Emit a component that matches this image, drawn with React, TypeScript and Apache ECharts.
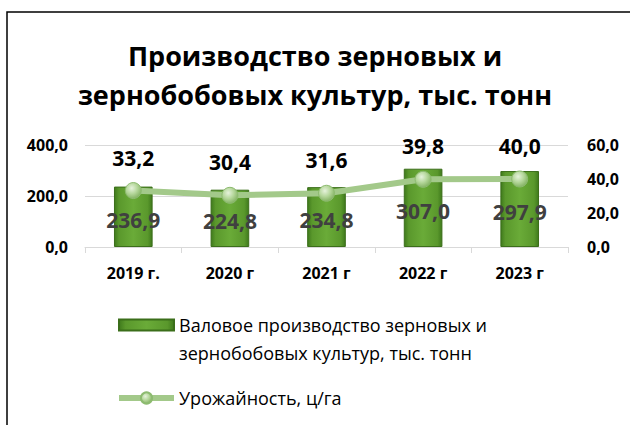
import React, { useEffect, useRef } from "react";
import * as echarts from "echarts";

const categories = ["2019 г.", "2020 г", "2021 г", "2022 г", "2023 г"];
const production = [236.9, 224.8, 234.8, 307.0, 297.9];
const yieldValues = [33.2, 30.4, 31.6, 39.8, 40.0];
const titleText = "Производство зерновых и\nзернобобовых культур, тыс. тонн";
const barName = "Валовое производство зерновых и\nзернобобовых культур, тыс. тонн";
const lineName = "Урожайность, ц/га";

const fmt = (v: number) => v.toFixed(1).replace(".", ",");
const FONT = "'Open Sans', 'Noto Sans', sans-serif";

export default function App() {
  const ref = useRef<HTMLDivElement>(null);
  useEffect(() => {
    if (!ref.current) return;
    const chart = echarts.init(ref.current, undefined, { renderer: "svg" });
    const barGradient = new echarts.graphic.LinearGradient(0, 0, 1, 0, [
      { offset: 0, color: "#3f7a1c" },
      { offset: 0.12, color: "#5a982c" },
      { offset: 0.5, color: "#6aab38" },
      { offset: 0.88, color: "#5a982c" },
      { offset: 1, color: "#3f7a1c" },
    ]);
    const markerGradient = new echarts.graphic.RadialGradient(0.4, 0.35, 0.7, [
      { offset: 0, color: "#e6f2dc" },
      { offset: 0.5, color: "#b5d79b" },
      { offset: 1, color: "#7fae5e" },
    ]);
    const axisLabelStyle = {
      fontFamily: FONT,
      fontSize: 16,
      fontWeight: "bold",
      color: "#000",
    };
    chart.setOption({
      animation: false,
      textStyle: { fontFamily: FONT },
      title: {
        text: titleText,
        left: "center",
        top: 36,
        padding: 0,
        textStyle: {
          fontFamily: FONT,
          fontSize: 27,
          fontWeight: "bold",
          color: "#000",
          lineHeight: 39,
        },
      },
      graphic: [
        {
          type: "rect",
          shape: { x: 7, y: 12, width: 700, height: 500 },
          style: { fill: "none", stroke: "#000", lineWidth: 1.5 },
          silent: true,
        },
      ],
      legend: {
        orient: "vertical",
        left: 116,
        top: 283,
        padding: 0,
        itemGap: 17,
        itemWidth: 55,
        itemHeight: 14,
        formatter: (name: string) => (name === barName ? "\n" + name : name),
        textStyle: { fontFamily: FONT, fontSize: 18, color: "#000", lineHeight: 28 },
        data: [
          { name: barName, icon: "path://M0,0h50v10h-50z" },
          { name: lineName, lineStyle: { width: 6 } },
        ],
      },
      grid: { left: 85, right: 62, top: 145, bottom: 178 },
      xAxis: {
        type: "category",
        data: categories,
        axisLine: { lineStyle: { color: "#d9d9d9", width: 1 } },
        axisTick: { show: true, lineStyle: { color: "#d9d9d9" }, length: 6 },
        axisLabel: { margin: 18, ...axisLabelStyle },
      },
      yAxis: [
        {
          type: "value",
          min: 0,
          max: 400,
          interval: 200,
          axisLabel: { margin: 17, ...axisLabelStyle, formatter: (v: number) => fmt(v) },
          splitLine: { lineStyle: { color: "#d9d9d9", width: 1 } },
          axisLine: { show: false },
          axisTick: { show: false },
        },
        {
          type: "value",
          min: 0,
          max: 60,
          interval: 20,
          position: "right",
          axisLabel: { margin: 19, ...axisLabelStyle, formatter: (v: number) => fmt(v) },
          splitLine: { show: false },
          axisLine: { show: false },
          axisTick: { show: false },
        },
      ],
      series: [
        {
          name: barName,
          type: "bar",
          data: production,
          barWidth: "40%",
          itemStyle: {
            color: barGradient,
            borderColor: "#3b6e1a",
            borderWidth: 1,
          },
          label: {
            show: true,
            position: "inside",
            offset: [0, 3],
            formatter: (p: any) => fmt(p.value),
            fontFamily: FONT,
            fontSize: 21,
            fontWeight: "bold",
            color: "#404040",
          },
          z: 2,
        },
        {
          name: lineName,
          type: "line",
          yAxisIndex: 1,
          data: yieldValues,
          symbol: "circle",
          symbolSize: 16,
          lineStyle: { color: "#a3c98a", width: 6 },
          itemStyle: {
            color: markerGradient,
            borderColor: "#8dbb70",
            borderWidth: 1,
          },
          label: {
            show: true,
            position: "top",
            distance: 14,
            formatter: (p: any) => fmt(p.value),
            fontFamily: FONT,
            fontSize: 21,
            fontWeight: "bold",
            color: "#000",
          },
          z: 3,
        },
      ],
    });
    return () => chart.dispose();
  }, []);
  return (
    <div
      ref={ref}
      style={{ position: "absolute", left: 0, top: 0, width: 630, height: 425, background: "#fff" }}
    />
  );
}
